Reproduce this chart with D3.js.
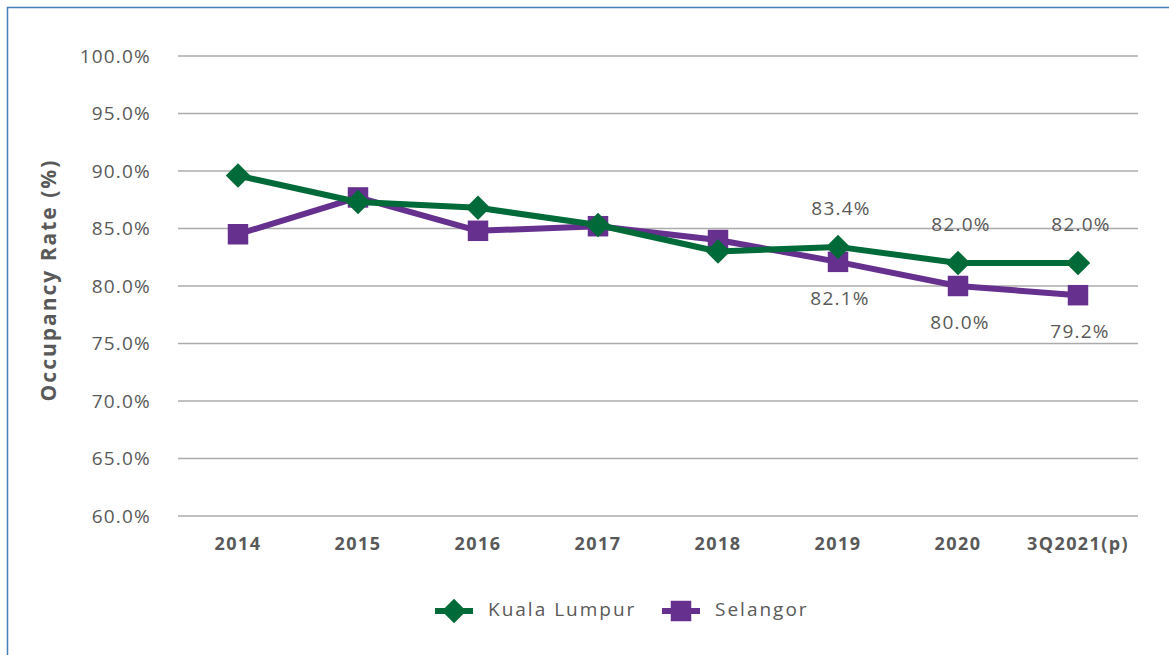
<!DOCTYPE html>
<html>
<head>
<meta charset="utf-8">
<script src="https://cdn.jsdelivr.net/npm/d3@7"></script>
<style>
  body { margin: 0; background: #fff; }
  text { font-family: "Open Sans", sans-serif; }
</style>
</head>
<body>
<div id="container"></div>
<script>
// data
var categories = ["2014", "2015", "2016", "2017", "2018", "2019", "2020", "3Q2021(p)"];
var klValues = [89.6, 87.3, 86.8, 85.3, 83.0, 83.4, 82.0, 82.0];
var selValues = [84.5, 87.7, 84.8, 85.2, 84.0, 82.1, 80.0, 79.2];
var yTicks = [60, 65, 70, 75, 80, 85, 90, 95, 100];
var seriesNames = ["Kuala Lumpur", "Selangor"];
// only the last three points carry labels
var labelFrom = 5;

var width = 1169;
var height = 655;
var green = "#006a38";
var purple = "#66308f";
var grey = "#595959";

var svg = d3.select("#container")
            .append("svg")
            .attr("width", width)
            .attr("height", height);

// frame (only top and left edges visible in the crop)
svg.append("rect")
   .attr("x", 7.5).attr("y", 7.5)
   .attr("width", width + 20).attr("height", height + 20)
   .attr("fill", "none")
   .attr("stroke", "#4a7ebb")
   .attr("stroke-width", 1.5);

var plotLeft = 178, plotRight = 1138, plotTop = 56, plotBottom = 516;

var x = d3.scaleBand()
          .domain(categories)
          .range([plotLeft, plotRight]);

var y = d3.scaleLinear()
          .domain([60, 100])
          .range([plotBottom, plotTop]);

// gridlines
svg.append("g")
   .selectAll("line")
   .data(yTicks)
   .enter().append("line")
   .attr("x1", plotLeft).attr("x2", plotRight)
   .attr("y1", function(d) { return y(d); })
   .attr("y2", function(d) { return y(d); })
   .attr("stroke", "#ababab")
   .attr("stroke-width", 1.5);

// y axis labels
var yAxis = svg.append("g")
   .attr("transform", "translate(" + (plotLeft - 27) + ",0)")
   .call(d3.axisLeft(y).tickValues(yTicks).tickSize(0).tickPadding(0)
         .tickFormat(function(d) { return d.toFixed(1) + "%"; }));
yAxis.select(".domain").remove();
yAxis.selectAll("text")
     .style("font-family", "'Open Sans', sans-serif")
     .style("font-size", "19px")
     .style("letter-spacing", "1.2px")
     .attr("fill", grey);

// x axis labels
var xAxis = svg.append("g")
   .attr("transform", "translate(0," + plotBottom + ")")
   .call(d3.axisBottom(x).tickSize(0).tickPadding(21));
xAxis.select(".domain").remove();
xAxis.selectAll("text")
     .style("font-family", "'Open Sans', sans-serif")
     .style("font-size", "18px")
     .style("font-weight", "bold")
     .style("letter-spacing", "1.4px")
     .attr("fill", grey);

// y axis title
svg.append("text")
   .attr("transform", "translate(56,280) rotate(-90)")
   .attr("text-anchor", "middle")
   .style("font-size", "21px")
   .style("font-weight", "bold")
   .style("letter-spacing", "2px")
   .attr("fill", grey)
   .text("Occupancy Rate (%)");

var cx = function(i) { return x(categories[i]) + x.bandwidth() / 2; };

var line = d3.line()
             .x(function(d, i) { return cx(i); })
             .y(function(d) { return y(d); });

var diamond = d3.symbol().type(d3.symbolSquare).size(300);
var square = d3.symbol().type(d3.symbolSquare).size(420);

function drawSeries(values, color, shape, rotate) {
  svg.append("path")
     .datum(values)
     .attr("d", line)
     .attr("fill", "none")
     .attr("stroke", color)
     .attr("stroke-width", 6)
     .attr("stroke-linejoin", "round");

  svg.append("g")
     .selectAll("path")
     .data(values)
     .enter().append("path")
     .attr("d", shape)
     .attr("transform", function(d, i) {
        return "translate(" + cx(i) + "," + y(d) + ")" + (rotate ? " rotate(45)" : "");
     })
     .attr("fill", color);
}

drawSeries(selValues, purple, square, false);
drawSeries(klValues, green, diamond, true);

// data labels: Kuala Lumpur above, Selangor below
function drawLabels(values, dy, dx) {
  svg.append("g").selectAll("text")
     .data(values.slice(labelFrom))
     .enter().append("text")
     .attr("x", function(d, i) { return cx(i + labelFrom) + dx; })
     .attr("y", function(d) { return y(d) + dy; })
     .attr("text-anchor", "middle")
     .attr("dominant-baseline", "middle")
     .style("font-size", "19px")
     .style("letter-spacing", "1.2px")
     .attr("fill", grey)
     .text(function(d) { return d.toFixed(1) + "%"; });
}
drawLabels(klValues, -37, 3);
drawLabels(selValues, 38, 2);

// legend
var legend = [
  { name: seriesNames[0], color: green, shape: diamond, rotate: true, x: 435 },
  { name: seriesNames[1], color: purple, shape: square, rotate: false, x: 662 }
];
var ly = 611;
var items = svg.append("g").selectAll("g")
   .data(legend)
   .enter().append("g")
   .attr("transform", function(d) { return "translate(" + d.x + "," + ly + ")"; });
items.append("line")
     .attr("x1", 0).attr("x2", 38)
     .attr("stroke", function(d) { return d.color; })
     .attr("stroke-width", 6);
items.append("path")
     .attr("d", function(d) { return d.shape(); })
     .attr("transform", function(d) { return "translate(19,0)" + (d.rotate ? " rotate(45)" : ""); })
     .attr("fill", function(d) { return d.color; });
items.append("text")
     .attr("x", 53)
     .attr("dominant-baseline", "middle")
     .style("font-size", "19px")
     .style("letter-spacing", "2px")
     .attr("fill", grey)
     .text(function(d) { return d.name; });
</script>
</body>
</html>
